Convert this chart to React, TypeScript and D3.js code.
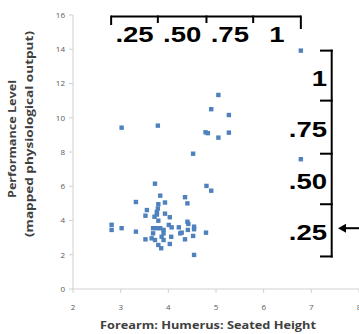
import React from 'react';
import * as d3 from 'd3';

// axis ticks
const xTicks = [2, 3, 4, 5, 6, 7, 8];
const yTicks = [0, 2, 4, 6, 8, 10, 12, 14, 16];

// forearm:humerus:seated height ratio (x) and performance level (y)
const ratio = [
  3.02, 3.78, 5.05, 4.90, 5.27, 4.78, 4.83, 5.05, 5.27, 4.52, 4.80, 4.90, 6.78, 6.78,
  3.72, 3.83, 3.32, 3.93, 4.35, 4.40, 3.79, 3.78, 3.76, 3.55, 3.52, 3.71, 3.93, 4.03,
  3.79, 4.01, 4.40, 4.42, 4.54, 4.54, 4.22, 4.07, 4.28, 4.25, 4.41, 4.52, 4.79, 4.35,
  4.06, 4.03, 4.54, 2.81, 2.81, 3.02, 3.32, 3.52, 3.68, 3.76, 3.83, 3.90, 3.68, 3.90,
  3.65, 3.72, 3.86, 3.90, 3.79, 3.85, 3.76,
];
const performance = [
  9.42, 9.54, 11.33, 10.50, 10.16, 9.15, 9.10, 8.84, 9.13, 7.90, 6.02, 5.74, 13.92, 7.58,
  6.15, 5.45, 5.08, 5.05, 5.36, 5.00, 4.95, 4.70, 4.50, 4.61, 4.28, 4.22, 4.40, 4.19,
  3.99, 3.74, 3.93, 3.80, 3.64, 3.49, 3.60, 3.60, 3.29, 3.25, 3.45, 3.10, 3.29, 2.90,
  3.05, 2.63, 1.99, 3.75, 3.45, 3.55, 3.35, 2.90, 3.55, 3.55, 3.55, 3.45, 3.25, 3.25,
  2.96, 2.86, 3.05, 2.86, 2.57, 2.38, 4.35,
];

// bracket annotations (in data units)
const topBreaks = [2.8, 3.78, 4.8, 5.78, 6.78];
const topLabels = ['.25', '.50', '.75', '1'];
const sideBreaks = [13.92, 11.0, 7.9, 4.95, 1.9];
const sideLabels = ['1', '.75', '.50', '.25'];
const arrowAt = 3.55;

const width = 359;
const height = 334;

const App = () => {
  const x = d3.scaleLinear().domain([2, 8]).range([73, 359]);
  const y = d3.scaleLinear().domain([0, 16]).range([289, 15]);

  const points = d3.zip(ratio, performance);
  const axisColor = '#d0d0d0';
  const tickColor = '#595959';
  const titleColor = '#404040';
  const bold = 'Liberation Sans, Arial, sans-serif';

  const topY = 16.5;
  const sideX = 331.7;
  const arrowY = y(arrowAt);

  return (
    <svg width={width} height={height} style={{ position: 'absolute', left: 0, top: 0 }}
      fontFamily="Open Sans, sans-serif">
      <rect width={width} height={height} fill="white" />

      {/* y axis */}
      <line x1={x(2)} x2={x(2)} y1={y(0)} y2={y(16)} stroke={axisColor} />
      {yTicks.map(t => (
        <g key={'y' + t}>
          <line x1={x(2) - 4} x2={x(2)} y1={y(t)} y2={y(t)} stroke={axisColor} />
          <text x={x(2) - 8} y={y(t)} dy="0.35em" textAnchor="end" fontSize={8} fill={tickColor}>{t}</text>
        </g>
      ))}

      {/* x axis */}
      <line x1={x(2)} x2={x(8)} y1={y(0)} y2={y(0)} stroke={axisColor} />
      {xTicks.map(t => (
        <g key={'x' + t}>
          <line x1={x(t)} x2={x(t)} y1={y(0)} y2={y(0) + 4} stroke={axisColor} />
          <text x={x(t)} y={y(0) + 21} textAnchor="middle" fontSize={8} fill={tickColor}>{t}</text>
        </g>
      ))}

      {/* axis titles */}
      <text x={208} y={329} textAnchor="middle" fontSize={11} fontWeight="bold" fill={titleColor}
        textLength={216} lengthAdjust="spacingAndGlyphs">Forearm: Humerus: Seated Height</text>
      <text transform="translate(16,139) rotate(-90)" textAnchor="middle" fontSize={10.5} fontWeight="bold"
        fill={titleColor} textLength={118} lengthAdjust="spacingAndGlyphs">Performance Level</text>
      <text transform="translate(33,134) rotate(-90)" textAnchor="middle" fontSize={10.5} fontWeight="bold"
        fill={titleColor} textLength={206} lengthAdjust="spacingAndGlyphs">(mapped physiological output)</text>

      {/* points */}
      {points.map(([px, py], i) => (
        <rect key={i} x={x(px) - 2.2} y={y(py) - 2.2} width={4.4} height={4.4} fill="#4f81bd" />
      ))}

      {/* top bracket */}
      <g stroke="black" strokeWidth={2} fill="none">
        <line x1={x(topBreaks[0])} x2={x(topBreaks[topBreaks.length - 1])} y1={topY} y2={topY} />
        {topBreaks.map((b, i) => {
          const end = i === 0 ? 25 : i === topBreaks.length - 1 ? 29 : 23;
          return <line key={'tb' + i} x1={x(b)} x2={x(b)} y1={topY - 1} y2={end} />;
        })}
      </g>
      {topLabels.map((l, i) => {
        const cx = (x(topBreaks[i]) + x(topBreaks[i + 1])) / 2;
        return (
          <text key={'tl' + i} transform={`translate(${cx},41.5) scale(1.25,1)`} textAnchor="middle"
            fontSize={22} fontWeight="bold" fontFamily={bold} fill="black">{l}</text>
        );
      })}

      {/* side bracket */}
      <g stroke="black" strokeWidth={2} fill="none">
        <line x1={sideX} x2={sideX} y1={y(sideBreaks[0]) - 1} y2={y(sideBreaks[sideBreaks.length - 1]) + 1} />
        {sideBreaks.map((b, i) => (
          <line key={'sb' + i} x1={320} x2={sideX + 1} y1={y(b)} y2={y(b)} />
        ))}
      </g>
      {sideLabels.map((l, i) => {
        const cy = (y(sideBreaks[i]) + y(sideBreaks[i + 1])) / 2;
        return (
          <text key={'sl' + i} transform={`translate(327,${cy + 10}) scale(1.25,1)`} textAnchor="end"
            fontSize={22} fontWeight="bold" fontFamily={bold} fill="black">{l}</text>
        );
      })}

      {/* arrow */}
      <line x1={344} x2={359} y1={arrowY} y2={arrowY} stroke="black" strokeWidth={2} />
      <path d={`M338,${arrowY} L346,${arrowY - 4.5} L346,${arrowY + 4.5} Z`} fill="black" />
    </svg>
  );
};

export default App;
